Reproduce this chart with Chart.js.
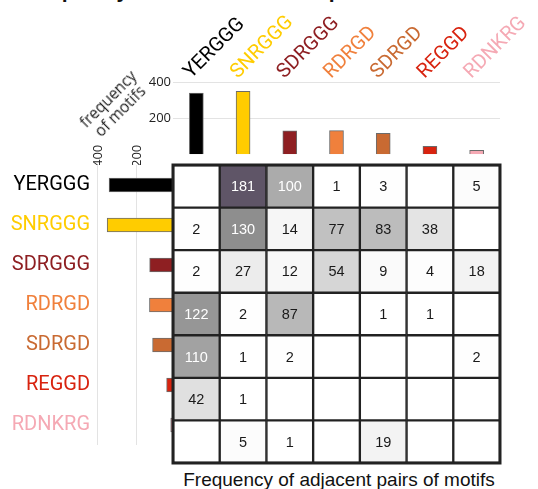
<!DOCTYPE html>
<html lang="en">
<head>
<meta charset="UTF-8">
<title>motif pairs</title>
<script src="https://cdn.jsdelivr.net/npm/chart.js"></script>
<style>
  body { margin: 0; width: 538px; height: 489px; position: relative; overflow: hidden; background: #fff;
         font-family: 'Liberation Sans', Arial, sans-serif; }
  .box { position: absolute; }
  #title { position: absolute; left: 22px; top: -20px; font: bold 21px/21px 'Liberation Sans', Arial, sans-serif; white-space: nowrap; color: #111; }
  #motifAxis { position: absolute; left: 64px; top: 88px; width: 100px; text-align: center; transform: rotate(-45deg);
               font: 15.5px/17px 'Open Sans', sans-serif; color: #222; }
  #pairTitle { position: absolute; left: 139px; top: 470px; width: 400px; text-align: center;
               font: 19px/19px 'Liberation Sans', Arial, sans-serif; color: #111; white-space: nowrap; }
</style>
</head>
<body>
<div id="title">Frequency of motifs and motif pairs</div>
<div class="box" style="left:130px;top:0;width:408px;height:164px"><canvas id="topChart"></canvas></div>
<div class="box" style="left:0;top:140px;width:175px;height:324px"><canvas id="leftChart"></canvas></div>
<div class="box" style="left:171px;top:163px;width:331px;height:302px"><canvas id="heatChart"></canvas></div>
<div id="motifAxis">frequency<br>of motifs</div>
<div id="pairTitle">Frequency of adjacent pairs of motifs</div>
<script>
const motifs = ['YERGGG', 'SNRGGG', 'SDRGGG', 'RDRGD', 'SDRGD', 'REGGD', 'RDNKRG'];
const motifColors = ['#000000', '#ffcc00', '#8e1f22', '#f0803c', '#c96a32', '#d8230f', '#f5a9b4'];
const motifCounts = [338, 348, 130, 131, 115, 43, 22];
const freqTicks = [200, 400];

// adjacent pairs: row = first motif, column = next motif (null = none)
const pairYERGGG = [null, 181, 100, 1, 3, null, 5];
const pairSNRGGG = [2, 130, 14, 77, 83, 38, null];
const pairSDRGGG = [2, 27, 12, 54, 9, 4, 18];
const pairRDRGD  = [122, 2, 87, null, 1, 1, null];
const pairSDRGD  = [110, 1, 2, null, null, null, 2];
const pairREGGD  = [42, 1, null, null, null, null, null];
const pairRDNKRG = [null, 5, 1, null, 19, null, null];
const pairRows = [pairYERGGG, pairSNRGGG, pairSDRGGG, pairRDRGD, pairSDRGD, pairREGGD, pairRDNKRG];

const labelFont = { family: 'Roboto', size: 20 };
const tickFont = { family: 'Open Sans', size: 13 };
Chart.defaults.animation = false;
Chart.defaults.maintainAspectRatio = false;
Chart.defaults.plugins.legend.display = false;
Chart.defaults.plugins.tooltip.enabled = false;

function heatColor(v) {
  if (v == null) return '#ffffff';
  if (v <= 130) {
    const g = Math.round(255 - 113 * Math.pow(v / 130, 1.15));
    return `rgb(${g},${g},${g})`;
  }
  const t = (v - 130) / 51;
  return `rgb(${Math.round(142 - 47 * t)},${Math.round(142 - 57 * t)},${Math.round(142 - 39 * t)})`;
}

// top bars
new Chart(document.getElementById('topChart'), {
  type: 'bar',
  data: { labels: motifs, datasets: [{ data: motifCounts, backgroundColor: motifColors,
          borderColor: '#6b6b6b', borderWidth: 1, barThickness: 14 }] },
  options: {
    layout: { padding: { left: 0, right: 38, top: 0, bottom: 0 } },
    scales: {
      x: { position: 'top', grid: { display: false, drawTicks: false }, border: { display: false },
           ticks: { color: c => motifColors[c.index], font: labelFont,
                    minRotation: 45, maxRotation: 45, autoSkip: false, padding: -2, labelOffset: 8 },
           afterFit: s => { s.height = 82; s.paddingLeft = 0; s.paddingRight = 0; } },
      y: { min: 0, max: 400, grid: { color: '#e3e3e3', drawTicks: false }, border: { display: false },
           afterBuildTicks: s => { s.ticks = freqTicks.map(v => ({ value: v })); },
           ticks: { font: tickFont, color: '#222', padding: 2 },
           afterFit: s => { s.width = 43; } }
    }
  }
});

// left bars
new Chart(document.getElementById('leftChart'), {
  type: 'bar',
  data: { labels: motifs, datasets: [{ data: motifCounts, backgroundColor: motifColors,
          borderColor: '#6b6b6b', borderWidth: 1, barThickness: 14 }] },
  options: {
    indexAxis: 'y',
    layout: { padding: { bottom: 1 } },
    scales: {
      x: { position: 'top', reverse: true, min: 0, max: 400,
           grid: { color: '#e3e3e3', drawTicks: false }, border: { display: false },
           afterBuildTicks: s => { s.ticks = freqTicks.map(v => ({ value: v })); },
           ticks: { minRotation: 90, maxRotation: 90, font: tickFont, color: '#222', padding: -2, labelOffset: 17 },
           afterFit: s => { s.height = 25; s.paddingLeft = 0; s.paddingRight = 0; } },
      y: { grid: { display: false, drawTicks: false }, border: { display: false },
           ticks: { color: c => motifColors[c.index], font: labelFont, padding: 7 },
           afterFit: s => { s.width = 97; } }
    }
  }
});

// heatmap of pairs
const cellText = {
  id: 'cellText',
  afterDatasetsDraw(chart) {
    const ctx = chart.ctx;
    ctx.save();
    ctx.font = "14.5px 'Liberation Sans', Arial, sans-serif";
    ctx.textAlign = 'center';
    ctx.textBaseline = 'middle';
    chart.data.datasets.forEach((ds, r) => {
      chart.getDatasetMeta(r).data.forEach((bar, c) => {
        const v = pairRows[r][c];
        if (v == null) return;
        ctx.fillStyle = v >= 100 ? '#ffffff' : '#1a1a1a';
        ctx.fillText(String(v), bar.x, (bar.y + bar.base) / 2 + 1);
      });
    });
    const a = chart.chartArea;
    ctx.lineWidth = 3;
    ctx.strokeStyle = '#222';
    ctx.strokeRect(a.left, a.top, a.right - a.left, a.bottom - a.top);
    ctx.restore();
  }
};

new Chart(document.getElementById('heatChart'), {
  type: 'bar',
  data: {
    labels: motifs,
    datasets: pairRows.map((row, r) => ({
      label: motifs[r],
      data: row.map(() => 1),
      backgroundColor: row.map(heatColor),
      borderColor: '#222',
      borderWidth: 1.5,
      borderSkipped: false,
      barPercentage: 1,
      categoryPercentage: 1
    }))
  },
  options: {
    layout: { padding: 2 },
    scales: {
      x: { display: false, stacked: true },
      y: { display: false, stacked: true, min: 0, max: 7, reverse: true }
    }
  },
  plugins: [cellText]
});
</script>
</body>
</html>
